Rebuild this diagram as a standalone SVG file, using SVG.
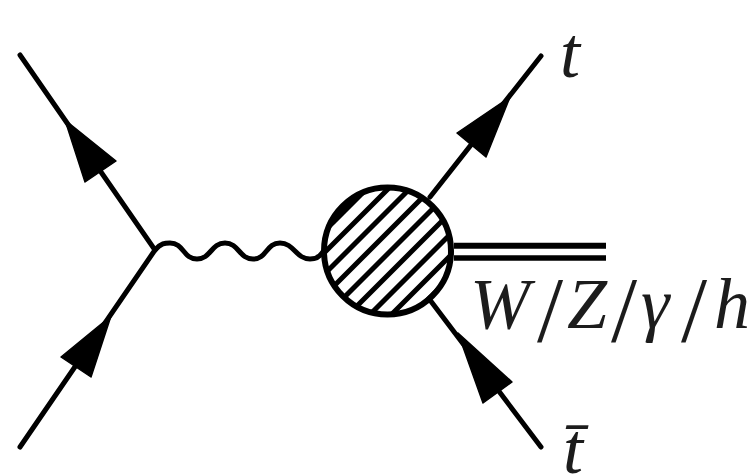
<svg xmlns="http://www.w3.org/2000/svg" width="753" height="476" viewBox="0 0 753 476">
<style>
.l{fill:none;stroke:#000;stroke-width:5;stroke-linecap:round}
.h{fill:#000;stroke:#000;stroke-width:1.5;stroke-linejoin:round}
.t{font-family:"Liberation Serif",serif;font-style:italic;font-size:72px;fill:#1c1c1c}
.s{font-style:normal;font-size:94px}
.hatch{stroke:#000;stroke-width:5}
</style>
<defs><clipPath id="c"><circle cx="387.5" cy="251" r="64"/></clipPath></defs>
<rect width="753" height="476" fill="#fff"/>
<g id="connectors">
<path class="l" d="M20 55L155 250L20 447"/>
<path class="l" d="M430 197L541 56"/>
<path class="l" d="M430 300L541 447"/>
<path class="l" d="M155 250C161 243 165 243 170 243C184 243 183 259 197 259C211 259 211 243 225 243C239 243 239 259 253 259C267 259 266 243 280 243C294 243 296 259 310 259C315 259 319 258 322 253"/>
<path class="l" d="M454 245.700H606" style="stroke-linecap:butt;stroke-width:6"/>
<path class="l" d="M454 258H606" style="stroke-linecap:butt;stroke-width:5.500"/>
<polygon class="h" points="65,120 116,161 85,182"/>
<polygon class="h" points="111,316 61,357 91,377"/>
<polygon class="h" points="510,97 457,133 486,157"/>
<polygon class="h" points="458,333 512,382 483,403"/>
</g>
<g id="blob">
<circle cx="387.500" cy="251" r="64" fill="#fff"/>
<g clip-path="url(#c)" class="hatch">
<path d="M320 214L351 183M320 235.500L372.500 183M320 257L394 183M320 278.500L415.500 183M320 300L437 183M320 321.500L458.500 183M341 322L480 183M362 322.500L460 224.500M384 322L460 246M405.500 322L460 267.500M427 322L460 289"/>
</g>
<circle cx="387.500" cy="251" r="63.500" fill="none" stroke="#000" stroke-width="6"/>
</g>
<g id="label-t"><text class="t" x="560" y="77">t</text></g>
<g id="label-tbar"><text class="t" x="563" y="473">t&#x304;</text></g>
<g id="label-wz"><text class="t" y="328"><tspan x="470">W</tspan><tspan class="s" x="537" y="341">/</tspan><tspan x="567" y="328">Z</tspan><tspan class="s" x="611" y="341">/</tspan><tspan x="641" y="328">γ</tspan><tspan class="s" x="681" y="341">/</tspan><tspan x="714" y="328">h</tspan></text></g>
</svg>
